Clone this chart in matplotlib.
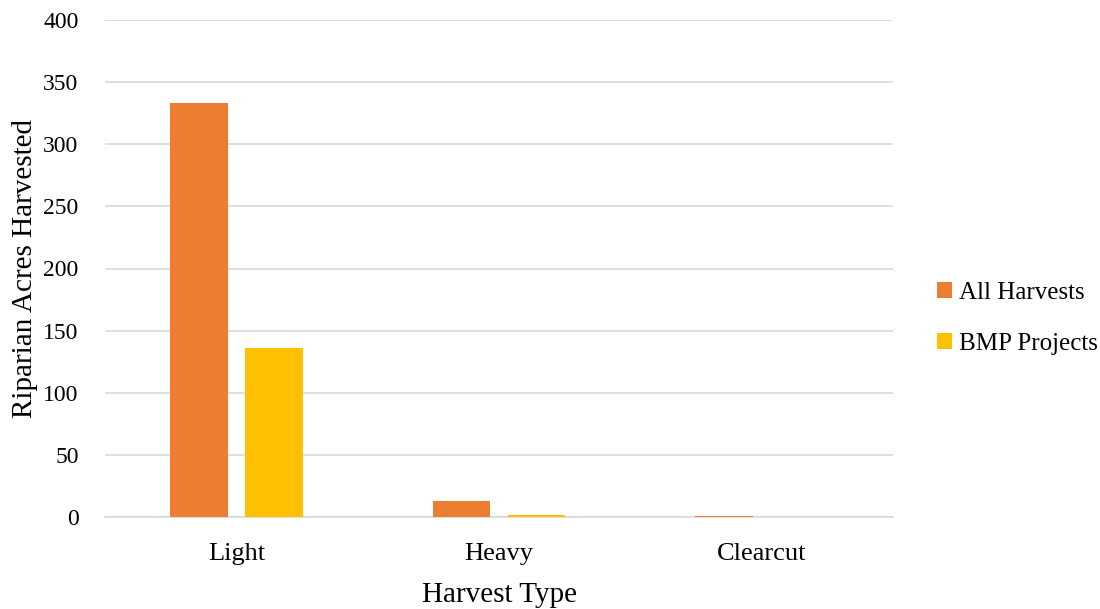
import matplotlib
matplotlib.use("Agg")
import matplotlib.pyplot as plt
import numpy as np

categories = ["Light", "Heavy", "Clearcut"]
all_harvests = [333, 13, 0.6]
bmp_projects = [136, 2, 0]
series_names = ["All Harvests", "BMP Projects"]
colors = ["#ED7D31", "#FFC000"]
yticks = [0, 50, 100, 150, 200, 250, 300, 350, 400]

plt.rcParams["font.family"] = ["Liberation Serif", "DejaVu Serif"]

fig = plt.figure(figsize=(11, 6.09), dpi=100)
ax = fig.add_axes([105 / 1100, (609 - 517) / 609, (893 - 105) / 1100, (517 - 20) / 609])

x = np.arange(len(categories))
width = 0.22
offset = 0.143
ax.bar(x - offset, all_harvests, width, color=colors[0], label=series_names[0], zorder=3)
ax.bar(x + offset, bmp_projects, width, color=colors[1], label=series_names[1], zorder=3)

ax.set_xlim(-0.5, len(categories) - 0.5)
ax.set_ylim(0, 400)
ax.set_yticks(yticks)
ax.set_xticks(x)
ax.set_xticklabels(categories)
ax.yaxis.grid(True, color="#D9D9D9", linewidth=1.2, zorder=0)
for s in ["top", "right", "left"]:
    ax.spines[s].set_visible(False)
ax.spines["bottom"].set_color("#D9D9D9")
ax.spines["bottom"].set_linewidth(1.2)
ax.tick_params(axis="both", length=0, colors="#000000")
ax.tick_params(axis="y", labelsize=17, pad=19)
ax.tick_params(axis="x", labelsize=19, pad=19)

ax.set_xlabel("Harvest Type", fontsize=21, labelpad=12)
ax.set_ylabel("Riparian Acres Harvested", fontsize=21, labelpad=4)

ax.legend(loc="center left", bbox_to_anchor=(1.027, 0.40), frameon=False,
          fontsize=18, handlelength=0.6, handleheight=0.6, handletextpad=0.3,
          labelspacing=1.15)

fig.savefig("out.png", dpi=100)
